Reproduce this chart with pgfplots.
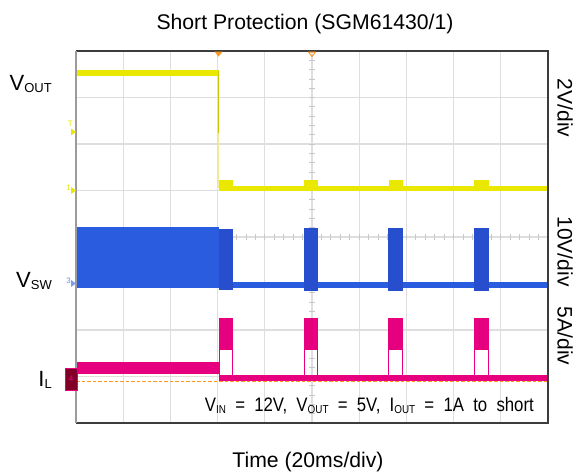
\documentclass[border=0pt]{standalone}
\usepackage{pgfplots}
\pgfplotsset{compat=1.18}
\usepackage{fontspec}
\setmainfont{Liberation Sans}
\definecolor{trY}{RGB}{234,232,0}
\definecolor{trYd}{RGB}{205,200,0}
\definecolor{trYf}{RGB}{240,238,150}
\definecolor{trB}{RGB}{42,92,224}
\definecolor{trBd}{RGB}{38,78,205}
\definecolor{trM}{RGB}{230,0,128}
\definecolor{trMd}{RGB}{130,0,40}
\definecolor{trO}{RGB}{255,150,30}
\definecolor{gridc}{RGB}{222,222,222}
\definecolor{tickc}{RGB}{200,200,200}
\definecolor{framec}{RGB}{60,60,60}
\definecolor{leftc}{RGB}{155,155,155}
\newcommand{\Lsub}[1]{\raisebox{-2bp}{\fontsize{13bp}{13bp}\selectfont #1}}
\newcommand{\Asub}[1]{\raisebox{-1.5bp}{\fontsize{11.5bp}{11.5bp}\selectfont #1}}
\newcommand{\Sp}{\hspace{10.75bp}}
\begin{document}
\begin{tikzpicture}
\path[use as bounding box] (0,0) rectangle (579bp,473bp);
\begin{axis}[at={(76bp,50bp)}, anchor=south west, scale only axis,
  width=472bp, height=372bp, xmin=0, xmax=10, ymin=0, ymax=8,
  xtick={0,...,10}, ytick={0,...,8}, xticklabels={}, yticklabels={},
  major tick length=0pt, grid=major,
  major grid style={draw=gridc, line width=1.2bp},
  axis line style={draw=none}, clip=false]
% center minor ticks
\pgfplotsinvokeforeach{0.2,0.4,...,9.9}{\draw[tickc, line width=0.8bp] (axis cs:#1,3.94) -- (axis cs:#1,4.06);}
\pgfplotsinvokeforeach{0.2,0.4,...,7.9}{\draw[tickc, line width=0.8bp] (axis cs:4.94,#1) -- (axis cs:5.06,#1);}
% orange dashed (IL zero reference)
\addplot[trO, line width=1.1bp, dash pattern=on 3.5bp off 2bp] coordinates {(0,0.89) (10,0.89)};
% ---------- VOUT (yellow) ----------
\addplot[trY, line width=5.6bp] coordinates {(0,7.527) (3.02,7.527)};
\addplot[trYd, line width=1.3bp] coordinates {(3.02,7.56) (3.02,6.24)};
\addplot[trYf, line width=1.2bp] coordinates {(3.02,6.24) (3.02,5.05)};
\addplot[trY, line width=4.6bp] coordinates {(3.30,5.04) (10,5.04)};
\addplot[fill=trY, draw=none] coordinates {(3.03,4.99) (3.32,4.99) (3.32,5.226) (3.03,5.226)} --cycle;
\addplot[fill=trY, draw=none] coordinates {(4.83,4.99) (5.12,4.99) (5.12,5.226) (4.83,5.226)} --cycle;
\addplot[fill=trY, draw=none] coordinates {(6.63,4.99) (6.92,4.99) (6.92,5.226) (6.63,5.226)} --cycle;
\addplot[fill=trY, draw=none] coordinates {(8.44,4.99) (8.74,4.99) (8.74,5.226) (8.44,5.226)} --cycle;
% ---------- VSW (blue) ----------
\addplot[fill=trB, draw=none] coordinates {(0,2.903) (3.02,2.903) (3.02,4.222) (0,4.222)} --cycle;
\addplot[fill=trBd, draw=none] coordinates {(3.02,2.86) (3.32,2.86) (3.32,4.172) (3.02,4.172)} --cycle;
\addplot[trB, line width=6bp] coordinates {(3.32,2.978) (10,2.978)};
\addplot[fill=trBd, draw=none] coordinates {(4.82,2.845) (5.12,2.845) (5.12,4.187) (4.82,4.187)} --cycle;
\addplot[fill=trBd, draw=none] coordinates {(6.62,2.845) (6.93,2.845) (6.93,4.187) (6.62,4.187)} --cycle;
\addplot[fill=trBd, draw=none] coordinates {(8.44,2.845) (8.75,2.845) (8.75,4.187) (8.44,4.187)} --cycle;
% ---------- IL (magenta) ----------
\addplot[fill=trM, draw=none] coordinates {(0,1.047) (3.02,1.047) (3.02,1.305) (0,1.305)} --cycle;
\addplot[trM, line width=6bp] coordinates {(3.02,0.978) (10,0.978)};
\addplot[fill=trM, draw=none] coordinates {(3.02,1.57) (3.32,1.57) (3.32,2.252) (3.02,2.252)} --cycle;
\addplot[fill=trM, draw=none] coordinates {(4.82,1.57) (5.12,1.57) (5.12,2.252) (4.82,2.252)} --cycle;
\addplot[fill=trM, draw=none] coordinates {(6.62,1.57) (6.93,1.57) (6.93,2.252) (6.62,2.252)} --cycle;
\addplot[fill=trM, draw=none] coordinates {(8.44,1.57) (8.75,1.57) (8.75,2.252) (8.44,2.252)} --cycle;
\addplot[trM, line width=0.9bp] coordinates {(3.03,1.0) (3.03,1.6)};
\addplot[trM, line width=0.9bp] coordinates {(3.31,1.0) (3.31,1.6)};
\addplot[trM, line width=0.9bp] coordinates {(4.83,1.0) (4.83,1.6)};
\addplot[trM, line width=0.9bp] coordinates {(5.11,1.0) (5.11,1.6)};
\addplot[trM, line width=0.9bp] coordinates {(6.63,1.0) (6.63,1.6)};
\addplot[trM, line width=0.9bp] coordinates {(6.92,1.0) (6.92,1.6)};
\addplot[trM, line width=0.9bp] coordinates {(8.45,1.0) (8.45,1.6)};
\addplot[trM, line width=0.9bp] coordinates {(8.74,1.0) (8.74,1.6)};
% frame
\draw[framec, line width=1.3bp] (rel axis cs:0,1) -- (rel axis cs:1,1) -- (rel axis cs:1,0) -- (rel axis cs:0,0);
\draw[leftc, line width=2bp] (rel axis cs:0,0) -- (rel axis cs:0,1);
% top markers
\fill[trO] (axis cs:3.02,7.88) -- ++(-4bp,5bp) -- ++(8bp,0) -- cycle;
\draw[trO, line width=0.9bp] (axis cs:5,7.88) -- ++(-3.5bp,4.5bp) -- ++(7bp,0) -- cycle;
% channel markers on left edge
\fill[trY] (axis cs:0,5) -- ++(-5bp,3.5bp) -- ++(0,-7bp) -- cycle;
\node[trY, font=\fontsize{8bp}{8bp}\selectfont, anchor=east, inner sep=0pt] at ([xshift=-5bp]axis cs:0,5.05) {1};
\fill[trY] (axis cs:0,6.26) -- ++(-5bp,3.5bp) -- ++(0,-7bp) -- cycle;
\node[trY, font=\fontsize{8bp}{8bp}\selectfont, anchor=south east, inner sep=0pt] at ([xshift=-3bp]axis cs:0,6.38) {T};
\fill[trB!60] (axis cs:0,3.0) -- ++(-5bp,3.5bp) -- ++(0,-7bp) -- cycle;
\node[trB!70, font=\fontsize{8bp}{8bp}\selectfont, anchor=east, inner sep=0pt] at ([xshift=-5bp]axis cs:0,3.05) {3};
\filldraw[fill=trMd, draw=trM, line width=0.8bp] ([xshift=-11bp]axis cs:0,0.71) rectangle ([xshift=1bp]axis cs:0,1.18);
\node[trM, font=\fontsize{8bp}{8bp}\selectfont, inner sep=0pt] at ([xshift=-5bp]axis cs:0,0.95) {4};
\end{axis}
% texts
\node[anchor=base, inner sep=0pt, font=\fontsize{21.2bp}{24bp}\selectfont] at (305bp,443bp) {Short Protection (SGM61430/1)};
\node[anchor=base, inner sep=0pt, font=\fontsize{21.2bp}{24bp}\selectfont] at (308bp,6bp) {Time (20ms/div)};
\node[anchor=base east, inner sep=0pt, font=\fontsize{22bp}{24bp}\selectfont] at (52bp,382bp) {V\Lsub{OUT}};
\node[anchor=base east, inner sep=0pt, font=\fontsize{22bp}{24bp}\selectfont] at (52bp,185.7bp) {V\Lsub{SW}};
\node[anchor=base east, inner sep=0pt, font=\fontsize{22bp}{24bp}\selectfont] at (52bp,86.3bp) {I\Lsub{L}};
\node[rotate=-90, inner sep=0pt, font=\fontsize{21bp}{24bp}\selectfont] at (565bp,365bp) {2V/div};
\node[rotate=-90, inner sep=0pt, font=\fontsize{21bp}{24bp}\selectfont] at (565bp,221.5bp) {10V/div};
\node[rotate=-90, inner sep=0pt, font=\fontsize{21bp}{24bp}\selectfont] at (565bp,137bp) {5A/div};
\node[anchor=base east, inner sep=0pt, font=\fontsize{19.5bp}{22bp}\selectfont] at (534bp,61bp) {\scalebox{0.86}[1]{V\Asub{IN}\Sp=\Sp12V,\Sp V\Asub{OUT}\Sp=\Sp5V,\Sp I\Asub{OUT}\Sp=\Sp1A\Sp to\Sp short}};
\end{tikzpicture}
\end{document}
